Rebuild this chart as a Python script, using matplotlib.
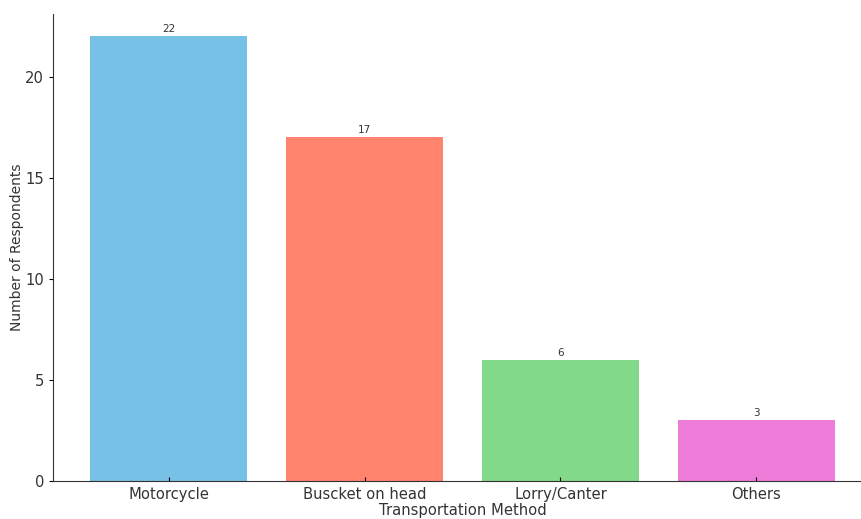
import matplotlib
matplotlib.use("Agg")
import matplotlib.pyplot as plt

methods = ["Motorcycle", "Buscket on head", "Lorry/Canter", "Others"]
respondents = [22, 17, 6, 3]
colors = ["#77c0e6", "#ff836d", "#83d98a", "#ee7cd9"]

fig = plt.figure(figsize=(8.62, 5.19), dpi=100)
W, H = 862, 519
ax = fig.add_axes([53 / W, 38 / H, 819 / W, 467 / H])

bars = ax.bar(range(len(methods)), respondents, color=colors, width=0.8)
for b, v in zip(bars, respondents):
    ax.text(b.get_x() + b.get_width() / 2, v + 0.1, str(v),
            ha="center", va="bottom", fontsize=7.5, color="#333333")

ax.set_xticks(range(len(methods)))
ax.set_xticklabels(methods, fontsize=10.6, color="#333333")
ax.set_ylim(0, 23.1)
ax.set_yticks([0, 5, 10, 15, 20])
ax.tick_params(axis="y", labelsize=10.6, labelcolor="#333333", direction="out", length=3)
ax.tick_params(axis="x", direction="in", length=3, pad=4)
ax.set_xlabel("Transportation Method", fontsize=10.6, color="#333333", labelpad=1)
ax.set_ylabel("Number of Respondents", fontsize=10, color="#333333", labelpad=1)
ax.spines["top"].set_visible(False)
ax.spines["right"].set_visible(False)
ax.spines["left"].set_color("#333333")
ax.spines["bottom"].set_color("#333333")

fig.savefig("out.png", dpi=100)
